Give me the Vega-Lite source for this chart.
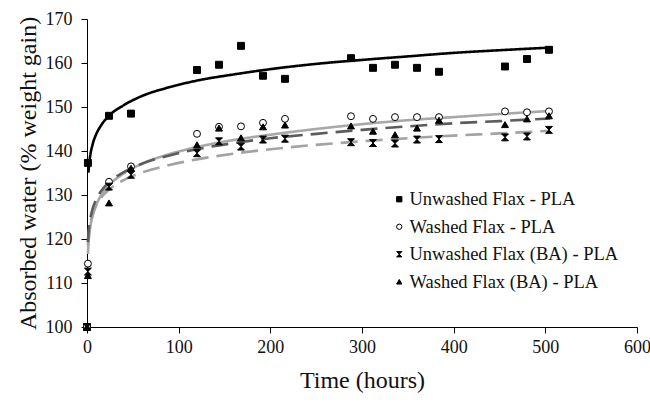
{
  "$schema": "https://vega.github.io/schema/vega-lite/v6.json",
  "width": 550,
  "height": 308,
  "autosize": {"type": "none"},
  "padding": {"left": 87, "top": 19, "right": 13, "bottom": 76},
  "background": "white",
  "datasets": {
    "pts": [
      {"t": 0, "v": 100, "s": "Unwashed Flax - PLA"},
      {"t": 1, "v": 137.3, "s": "Unwashed Flax - PLA"},
      {"t": 24, "v": 148.0, "s": "Unwashed Flax - PLA"},
      {"t": 48, "v": 148.5, "s": "Unwashed Flax - PLA"},
      {"t": 120, "v": 158.4, "s": "Unwashed Flax - PLA"},
      {"t": 144, "v": 159.6, "s": "Unwashed Flax - PLA"},
      {"t": 168, "v": 163.9, "s": "Unwashed Flax - PLA"},
      {"t": 192, "v": 157.1, "s": "Unwashed Flax - PLA"},
      {"t": 216, "v": 156.4, "s": "Unwashed Flax - PLA"},
      {"t": 288, "v": 161.1, "s": "Unwashed Flax - PLA"},
      {"t": 312, "v": 158.9, "s": "Unwashed Flax - PLA"},
      {"t": 336, "v": 159.6, "s": "Unwashed Flax - PLA"},
      {"t": 360, "v": 158.9, "s": "Unwashed Flax - PLA"},
      {"t": 384, "v": 158.0, "s": "Unwashed Flax - PLA"},
      {"t": 456, "v": 159.2, "s": "Unwashed Flax - PLA"},
      {"t": 480, "v": 160.9, "s": "Unwashed Flax - PLA"},
      {"t": 504, "v": 163.0, "s": "Unwashed Flax - PLA"},
      {"t": 0, "v": 100, "s": "Washed Flax - PLA"},
      {"t": 1, "v": 114.4, "s": "Washed Flax - PLA"},
      {"t": 24, "v": 133.0, "s": "Washed Flax - PLA"},
      {"t": 48, "v": 136.5, "s": "Washed Flax - PLA"},
      {"t": 120, "v": 143.9, "s": "Washed Flax - PLA"},
      {"t": 144, "v": 145.5, "s": "Washed Flax - PLA"},
      {"t": 168, "v": 145.6, "s": "Washed Flax - PLA"},
      {"t": 192, "v": 146.4, "s": "Washed Flax - PLA"},
      {"t": 216, "v": 147.3, "s": "Washed Flax - PLA"},
      {"t": 288, "v": 147.9, "s": "Washed Flax - PLA"},
      {"t": 312, "v": 147.3, "s": "Washed Flax - PLA"},
      {"t": 336, "v": 147.7, "s": "Washed Flax - PLA"},
      {"t": 360, "v": 147.7, "s": "Washed Flax - PLA"},
      {"t": 384, "v": 147.7, "s": "Washed Flax - PLA"},
      {"t": 456, "v": 149.0, "s": "Washed Flax - PLA"},
      {"t": 480, "v": 148.8, "s": "Washed Flax - PLA"},
      {"t": 504, "v": 149.0, "s": "Washed Flax - PLA"},
      {"t": 0, "v": 100, "s": "Unwashed Flax (BA) - PLA"},
      {"t": 1, "v": 112.6, "s": "Unwashed Flax (BA) - PLA"},
      {"t": 24, "v": 131.9, "s": "Unwashed Flax (BA) - PLA"},
      {"t": 48, "v": 134.6, "s": "Unwashed Flax (BA) - PLA"},
      {"t": 120, "v": 139.5, "s": "Unwashed Flax (BA) - PLA"},
      {"t": 144, "v": 142.2, "s": "Unwashed Flax (BA) - PLA"},
      {"t": 168, "v": 141.0, "s": "Unwashed Flax (BA) - PLA"},
      {"t": 192, "v": 142.6, "s": "Unwashed Flax (BA) - PLA"},
      {"t": 216, "v": 142.8, "s": "Unwashed Flax (BA) - PLA"},
      {"t": 288, "v": 142.0, "s": "Unwashed Flax (BA) - PLA"},
      {"t": 312, "v": 141.8, "s": "Unwashed Flax (BA) - PLA"},
      {"t": 336, "v": 141.7, "s": "Unwashed Flax (BA) - PLA"},
      {"t": 360, "v": 142.6, "s": "Unwashed Flax (BA) - PLA"},
      {"t": 384, "v": 142.7, "s": "Unwashed Flax (BA) - PLA"},
      {"t": 456, "v": 143.1, "s": "Unwashed Flax (BA) - PLA"},
      {"t": 480, "v": 143.3, "s": "Unwashed Flax (BA) - PLA"},
      {"t": 504, "v": 144.8, "s": "Unwashed Flax (BA) - PLA"},
      {"t": 0, "v": 100, "s": "Washed Flax (BA) - PLA"},
      {"t": 1, "v": 111.7, "s": "Washed Flax (BA) - PLA"},
      {"t": 24, "v": 128.2, "s": "Washed Flax (BA) - PLA"},
      {"t": 48, "v": 136.1, "s": "Washed Flax (BA) - PLA"},
      {"t": 120, "v": 141.4, "s": "Washed Flax (BA) - PLA"},
      {"t": 144, "v": 145.2, "s": "Washed Flax (BA) - PLA"},
      {"t": 168, "v": 143.0, "s": "Washed Flax (BA) - PLA"},
      {"t": 192, "v": 145.5, "s": "Washed Flax (BA) - PLA"},
      {"t": 216, "v": 145.9, "s": "Washed Flax (BA) - PLA"},
      {"t": 288, "v": 145.7, "s": "Washed Flax (BA) - PLA"},
      {"t": 312, "v": 144.5, "s": "Washed Flax (BA) - PLA"},
      {"t": 336, "v": 143.7, "s": "Washed Flax (BA) - PLA"},
      {"t": 360, "v": 145.2, "s": "Washed Flax (BA) - PLA"},
      {"t": 384, "v": 147.0, "s": "Washed Flax (BA) - PLA"},
      {"t": 456, "v": 146.0, "s": "Washed Flax (BA) - PLA"},
      {"t": 480, "v": 147.3, "s": "Washed Flax (BA) - PLA"},
      {"t": 504, "v": 148.0, "s": "Washed Flax (BA) - PLA"}
    ],
    "fits": [
      {"t": 1.5, "v": 135.1, "f": "A"}, {"t": 3, "v": 138.2, "f": "A"}, {"t": 6, "v": 141.4, "f": "A"}, {"t": 10, "v": 143.8, "f": "A"}, {"t": 15, "v": 145.7, "f": "A"}, {"t": 25, "v": 148.2, "f": "A"}, {"t": 40, "v": 150.4, "f": "A"}, {"t": 60, "v": 152.5, "f": "A"}, {"t": 90, "v": 154.5, "f": "A"}, {"t": 120, "v": 156.0, "f": "A"}, {"t": 160, "v": 157.4, "f": "A"}, {"t": 200, "v": 158.6, "f": "A"}, {"t": 250, "v": 159.8, "f": "A"}, {"t": 300, "v": 160.7, "f": "A"}, {"t": 350, "v": 161.5, "f": "A"}, {"t": 400, "v": 162.3, "f": "A"}, {"t": 450, "v": 162.9, "f": "A"}, {"t": 505, "v": 163.5, "f": "A"},
      {"t": 1, "v": 116.6, "f": "B"}, {"t": 1.5, "v": 118.5, "f": "B"}, {"t": 3, "v": 121.8, "f": "B"}, {"t": 6, "v": 125.1, "f": "B"}, {"t": 10, "v": 127.7, "f": "B"}, {"t": 15, "v": 129.8, "f": "B"}, {"t": 25, "v": 132.4, "f": "B"}, {"t": 40, "v": 134.9, "f": "B"}, {"t": 60, "v": 137.1, "f": "B"}, {"t": 90, "v": 139.3, "f": "B"}, {"t": 120, "v": 140.9, "f": "B"}, {"t": 160, "v": 142.5, "f": "B"}, {"t": 200, "v": 143.7, "f": "B"}, {"t": 250, "v": 145.0, "f": "B"}, {"t": 300, "v": 146.1, "f": "B"}, {"t": 350, "v": 147.0, "f": "B"}, {"t": 400, "v": 147.7, "f": "B"}, {"t": 450, "v": 148.4, "f": "B"}, {"t": 505, "v": 149.1, "f": "B"},
      {"t": 1, "v": 118.6, "f": "C"}, {"t": 1.5, "v": 120.1, "f": "C"}, {"t": 3, "v": 122.8, "f": "C"}, {"t": 6, "v": 125.5, "f": "C"}, {"t": 10, "v": 127.6, "f": "C"}, {"t": 15, "v": 129.3, "f": "C"}, {"t": 25, "v": 131.4, "f": "C"}, {"t": 40, "v": 133.4, "f": "C"}, {"t": 60, "v": 135.1, "f": "C"}, {"t": 90, "v": 136.8, "f": "C"}, {"t": 120, "v": 138.1, "f": "C"}, {"t": 160, "v": 139.4, "f": "C"}, {"t": 200, "v": 140.4, "f": "C"}, {"t": 250, "v": 141.4, "f": "C"}, {"t": 300, "v": 142.2, "f": "C"}, {"t": 350, "v": 142.9, "f": "C"}, {"t": 400, "v": 143.5, "f": "C"}, {"t": 450, "v": 144.0, "f": "C"}, {"t": 505, "v": 144.6, "f": "C"},
      {"t": 1, "v": 119.3, "f": "D"}, {"t": 1.5, "v": 121.0, "f": "D"}, {"t": 3, "v": 123.8, "f": "D"}, {"t": 6, "v": 126.8, "f": "D"}, {"t": 10, "v": 129.0, "f": "D"}, {"t": 15, "v": 130.8, "f": "D"}, {"t": 25, "v": 133.1, "f": "D"}, {"t": 40, "v": 135.2, "f": "D"}, {"t": 60, "v": 137.1, "f": "D"}, {"t": 90, "v": 139.0, "f": "D"}, {"t": 120, "v": 140.4, "f": "D"}, {"t": 160, "v": 141.8, "f": "D"}, {"t": 200, "v": 142.9, "f": "D"}, {"t": 250, "v": 143.9, "f": "D"}, {"t": 300, "v": 144.8, "f": "D"}, {"t": 350, "v": 145.6, "f": "D"}, {"t": 400, "v": 146.3, "f": "D"}, {"t": 450, "v": 146.8, "f": "D"}, {"t": 505, "v": 147.4, "f": "D"}
    ]
  },
  "layer": [
    {
      "data": {"name": "fits"},
      "mark": {"type": "line", "interpolate": "monotone"},
      "encoding": {
        "x": {"field": "t", "type": "quantitative", "scale": {"domain": [0, 600], "nice": false},
          "axis": {"values": [0, 100, 200, 300, 400, 500, 600], "title": "Time (hours)", "labelPadding": 5, "titlePadding": 12, "labelFlush": false}},
        "y": {"field": "v", "type": "quantitative", "scale": {"domain": [100, 170], "nice": false, "zero": false},
          "axis": {"values": [100, 110, 120, 130, 140, 150, 160, 170], "title": "Absorbed water (% weight gain)", "labelPadding": 9, "titlePadding": 5, "labelFlush": false}},
        "detail": {"field": "f"},
        "color": {"field": "f", "type": "nominal", "legend": null,
          "scale": {"domain": ["B", "C", "D", "A"], "range": ["#a8a8a8", "#a3a3a3", "#5c5c5c", "#000000"]}},
        "strokeDash": {"field": "f", "type": "nominal", "legend": null,
          "scale": {"domain": ["B", "C", "D", "A"], "range": [[1, 0], [17, 8], [17, 8], [1, 0]]}},
        "strokeWidth": {"field": "f", "type": "nominal", "legend": null,
          "scale": {"domain": ["B", "C", "D", "A"], "range": [2.6, 2.6, 2.6, 3.1]}},
        "order": {"field": "f"}
      }
    },
    {
      "data": {"name": "pts"},
      "mark": {"type": "point", "size": 48, "strokeWidth": 1, "opacity": 1, "filled": false},
      "encoding": {
        "x": {"field": "t", "type": "quantitative"},
        "y": {"field": "v", "type": "quantitative"},
        "shape": {"field": "s", "type": "nominal", "title": null,
          "scale": {"domain": ["Unwashed Flax - PLA", "Washed Flax - PLA", "Unwashed Flax (BA) - PLA", "Washed Flax (BA) - PLA"],
            "range": ["square", "circle", "M-1,-1L1,-1L-1,1L1,1Z", "triangle-up"]},
          "legend": {"orient": "none", "legendX": 303, "legendY": 171, "symbolSize": 28, "rowPadding": 8.5, "labelOffset": 1, "padding": 0, "labelLimit": 400,
            "labelFont": "Liberation Serif", "labelFontSize": 18.5, "labelColor": "#111", "symbolStrokeWidth": 1}},
        "fill": {"field": "s", "type": "nominal", "title": null,
          "scale": {"domain": ["Unwashed Flax - PLA", "Washed Flax - PLA", "Unwashed Flax (BA) - PLA", "Washed Flax (BA) - PLA"],
            "range": ["black", "white", "black", "black"]},
          "legend": {"orient": "none", "legendX": 303, "legendY": 171, "symbolSize": 28, "rowPadding": 8.5, "labelOffset": 1, "padding": 0, "labelLimit": 400,
            "labelFont": "Liberation Serif", "labelFontSize": 18.5, "labelColor": "#111", "symbolStrokeWidth": 1}},
        "stroke": {"field": "s", "type": "nominal", "title": null,
          "scale": {"domain": ["Unwashed Flax - PLA", "Washed Flax - PLA", "Unwashed Flax (BA) - PLA", "Washed Flax (BA) - PLA"],
            "range": ["black", "black", "black", "black"]},
          "legend": {"orient": "none", "legendX": 303, "legendY": 171, "symbolSize": 28, "rowPadding": 8.5, "labelOffset": 1, "padding": 0, "labelLimit": 400,
            "labelFont": "Liberation Serif", "labelFontSize": 18.5, "labelColor": "#111", "symbolStrokeWidth": 1}}
      }
    }
  ],
  "config": {
    "view": {"stroke": null},
    "axis": {"grid": false, "domainColor": "#000", "tickColor": "#000", "tickSize": 6, "domainWidth": 1,
      "labelFont": "Liberation Serif", "titleFont": "Liberation Serif", "labelFontSize": 18, "titleFontSize": 24,
      "titleFontWeight": "normal", "labelColor": "#111", "titleColor": "#111"}
  }
}
